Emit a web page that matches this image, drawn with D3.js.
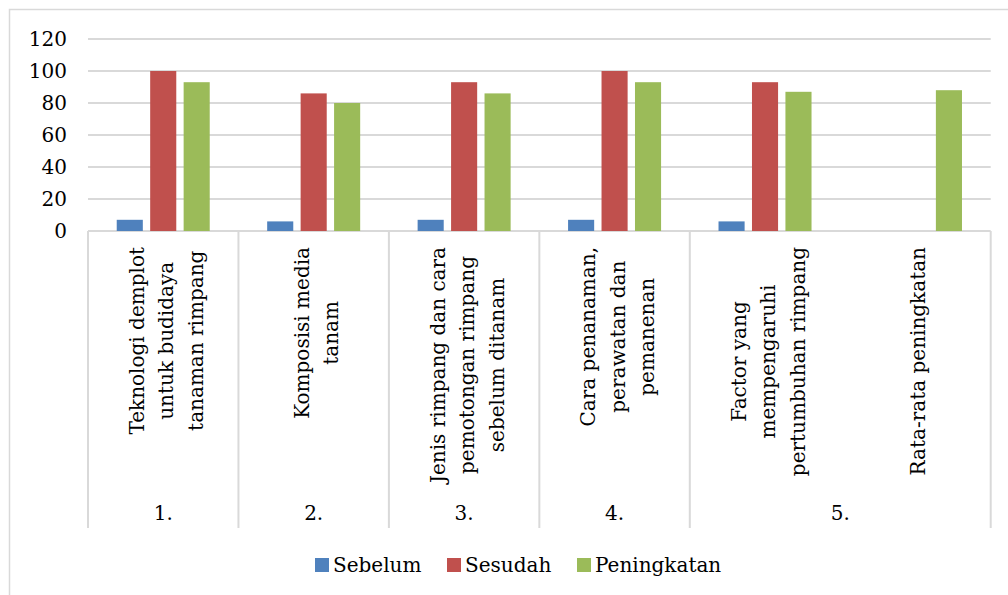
<!DOCTYPE html>
<html><head><meta charset="utf-8">
<script src="https://cdn.jsdelivr.net/npm/d3@7"></script>
<style>body{margin:0;background:#fff}svg{display:block}text{font-family:"DejaVu Serif",serif;fill:#000}</style>
</head><body>
<svg id="c" width="1008" height="595"></svg>
<script>
const categoryLines = [
  ["Teknologi demplot","untuk budidaya","tanaman rimpang"],
  ["Komposisi media","tanam"],
  ["Jenis rimpang dan cara","pemotongan rimpang","sebelum ditanam"],
  ["Cara penanaman,","perawatan dan","pemanenan"],
  ["Factor yang","mempengaruhi","pertumbuhan rimpang"],
  ["Rata-rata peningkatan"]
];
const groupLabels = ["1.","2.","3.","4.","5."];
const groupSpans = [1,1,1,1,2];
const seriesNames = ["Sebelum","Sesudah","Peningkatan"];
const sebelum = [7,6,7,7,6,null];
const sesudah = [100,86,93,100,93,null];
const peningkatan = [93,80,86,93,87,88];
const yTicks = [0,20,40,60,80,100,120];
const colors = ["#4f81bd","#c0504d","#9bbb59"];

(function(){
const svg = d3.select("#c");
const pL=88, pR=990.7, pT=39, pB=231;
const fs=20;

svg.append("rect").attr("x",9.5).attr("y",9.5).attr("width",1010).attr("height",600)
  .attr("fill","none").attr("stroke","#d9d9d9").attr("stroke-width",1.5);

const idx = d3.range(categoryLines.length);
const x = d3.scaleBand().domain(idx).range([pL,pR]).paddingInner(0).paddingOuter(0);
const y = d3.scaleLinear().domain([0,120]).range([pB,pT]);
const xs = d3.scaleBand().domain([0,1,2]).range([0,93]).paddingInner(0.22).paddingOuter(0);

svg.append("g").selectAll("line").data(yTicks).join("line")
  .attr("x1",pL).attr("x2",pR).attr("y1",d=>y(d)).attr("y2",d=>y(d))
  .attr("stroke","#d9d9d9").attr("stroke-width",2);

svg.append("g").selectAll("text").data(yTicks).join("text")
  .attr("x",67).attr("y",d=>y(d)).attr("dy","0.36em").attr("text-anchor","end")
  .attr("font-size",fs).text(d=>d);

const series=[sebelum,sesudah,peningkatan];
series.forEach((vals,s)=>{
  svg.append("g").selectAll("rect").data(vals.map((v,i)=>({v,i})).filter(d=>d.v!=null)).join("rect")
    .attr("x",d=>x(d.i)+x.bandwidth()/2-46.5+xs(s))
    .attr("width",xs.bandwidth())
    .attr("y",d=>y(d.v)).attr("height",d=>pB-y(d.v))
    .attr("fill",colors[s]);
});

const axisBottom=528;
let bounds=[0]; let acc=0; groupSpans.forEach(s=>{acc+=s;bounds.push(acc);});
const sepX = bounds.map(b=> b<categoryLines.length? x(b): pR);
svg.append("g").selectAll("line").data(sepX).join("line")
  .attr("x1",d=>d).attr("x2",d=>d).attr("y1",pB).attr("y2",axisBottom)
  .attr("stroke","#d9d9d9").attr("stroke-width",2);

const lh=29.5;
categoryLines.forEach((lines,i)=>{
  const g=svg.append("g");
  const cx=x(i)+x.bandwidth()/2+3;
  const ts = lines.map((t,j)=>g.append("text").attr("font-size",fs).attr("text-anchor","middle").attr("dominant-baseline","central").text(t));
  const maxLen=d3.max(ts,t=>t.node().getComputedTextLength());
  const yc=247+maxLen/2;
  ts.forEach((t,j)=>{
    const lx=cx+(j-(lines.length-1)/2)*lh;
    t.attr("transform",`translate(${lx},${yc}) rotate(-90)`);
  });
});

groupLabels.forEach((g,i)=>{
  const x0=x(bounds[i]), x1=bounds[i+1]<categoryLines.length? x(bounds[i+1]) : pR;
  svg.append("text").attr("x",(x0+x1)/2).attr("y",513).attr("dy","0.36em").attr("text-anchor","middle")
    .attr("font-size",fs).text(g);
});

const legX=[315,447,577];
seriesNames.forEach((n,i)=>{
  svg.append("rect").attr("x",legX[i]).attr("y",558).attr("width",14).attr("height",14).attr("fill",colors[i]);
  svg.append("text").attr("x",legX[i]+18).attr("y",565).attr("dy","0.36em").attr("font-size",fs).text(n);
});
})();
</script>
</body></html>
